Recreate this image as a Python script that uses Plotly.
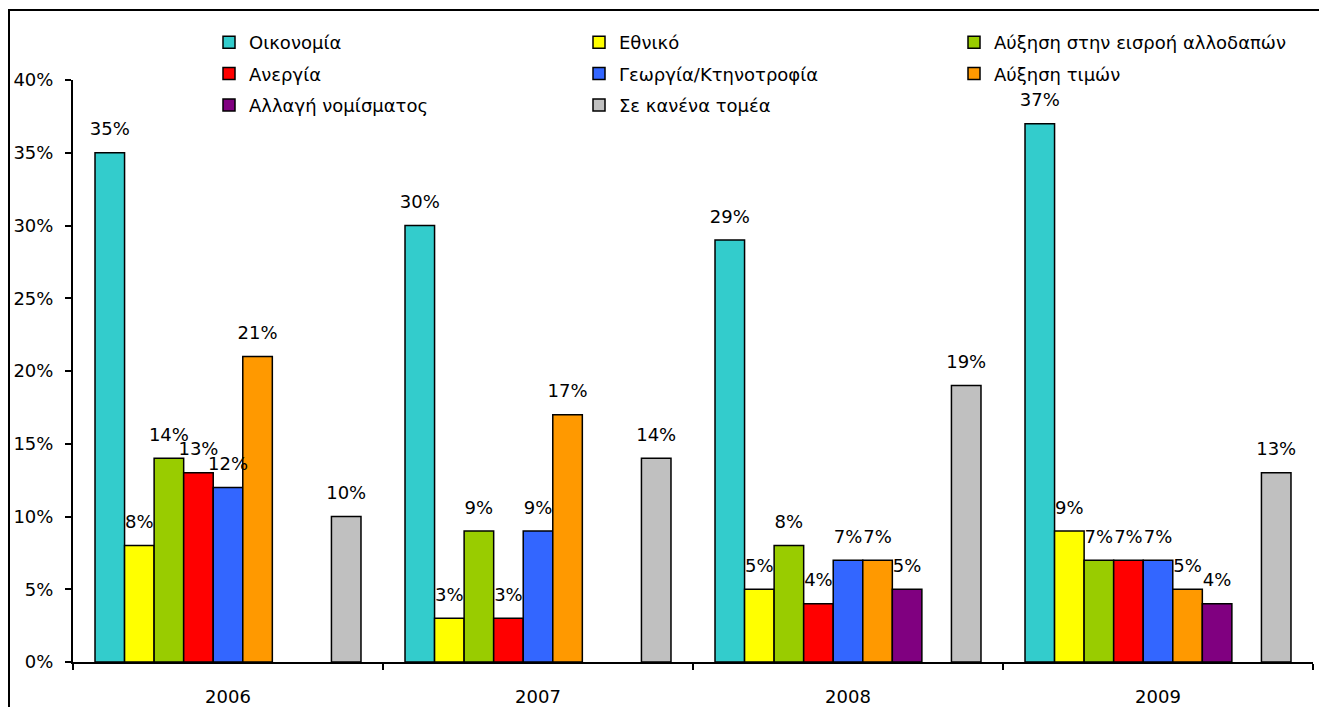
import plotly.graph_objects as go

years = ["2006", "2007", "2008", "2009"]

series_names = [
    "Οικονομία",
    "Εθνικό",
    "Αύξηση στην εισροή αλλοδαπών",
    "Ανεργία",
    "Γεωργία/Κτηνοτροφία",
    "Αύξηση τιμών",
    "Αλλαγή νομίσματος",
    "",
    "Σε κανένα τομέα",
]

oikonomia = [35, 30, 29, 37]
ethniko = [8, 3, 5, 9]
allodapoi = [14, 9, 8, 7]
anergia = [13, 3, 4, 7]
georgia = [12, 9, 7, 7]
timi = [21, 17, 7, 5]
nomisma = [None, None, 5, 4]
blank = [None, None, None, None]
kanena = [10, 14, 19, 13]

values = [oikonomia, ethniko, allodapoi, anergia, georgia, timi, nomisma, blank, kanena]
colors = ["#33CCCC", "#FFFF00", "#99CC00", "#FF0000", "#3366FF", "#FF9900", "#800080", "#FFFFFF", "#C0C0C0"]
legend_ids = ["legend", "legend2", "legend3", "legend", "legend2", "legend3", "legend", None, "legend2"]

FONT = "DejaVu Sans"
FS = 18
GAP = 0.142

fig = go.Figure()
for i, (name, vals, col, lg) in enumerate(zip(series_names, values, colors, legend_ids)):
    fig.add_trace(go.Bar(
        x=years, y=vals, name=name,
        marker=dict(color=col, line=dict(color="black", width=1.5)),
        showlegend=lg is not None,
        legend=lg if lg else "legend",
        legendgroup=f"g{i}",
        hoverinfo="skip",
    ))

for i, vals in enumerate(values):
    fig.add_trace(go.Scatter(
        x=years, y=vals, mode="markers+text",
        text=[f"{v}%" if v is not None else "" for v in vals],
        textposition="top center",
        textfont=dict(family=FONT, size=FS, color="black"),
        marker=dict(size=19, opacity=0),
        showlegend=False, hoverinfo="skip", cliponaxis=False,
    ))

# page body has an 8px margin; figure coords = reference coords - 8
OFF = 8
W, H = 1327 - OFF, 707 - OFF
PLOT_L, PLOT_R, PLOT_T, PLOT_B = 73 - OFF, 1313 - OFF, 80 - OFF, 662 - OFF
L, R, T, B = PLOT_L, W - PLOT_R, 2, H - PLOT_B
pw, ph = W - L - R, H - T - B
ydom_top = (PLOT_B - PLOT_T) / ph

def px2x(p):
    return (p - OFF - L) / pw

def px2y(p):
    return (H - B - (p - OFF)) / ph

leg_common = dict(
    orientation="v", xanchor="left", yanchor="top",
    bgcolor="rgba(0,0,0,0)", borderwidth=0,
    font=dict(family=FONT, size=FS, color="black"),
    tracegroupgap=5,
)

fig.update_layout(
    width=W, height=H,
    margin=dict(l=L, r=R, t=T, b=B, autoexpand=False),
    paper_bgcolor="white", plot_bgcolor="white",
    font=dict(family=FONT, size=FS, color="black"),
    barmode="group", bargap=GAP, bargroupgap=0,
    scattermode="group", scattergap=GAP,
    legend=dict(x=px2x(209), y=px2y(24), **leg_common),
    legend2=dict(x=px2x(579), y=px2y(24), **leg_common),
    legend3=dict(x=px2x(954), y=px2y(24), **leg_common),
    xaxis=dict(
        type="category", showline=True, linecolor="black", linewidth=2,
        ticks="outside", tickson="boundaries", ticklen=6, tickwidth=2, tickcolor="black",
        showgrid=False, ticklabelstandoff=17, automargin=False,
        tickfont=dict(family=FONT, size=FS, color="black"),
    ),
    yaxis=dict(
        domain=[0, ydom_top],
        range=[0, 40], dtick=5, ticksuffix="%", showline=True, linecolor="black", linewidth=2,
        ticks="outside", ticklen=6, tickwidth=2, tickcolor="black",
        showgrid=False, zeroline=False, ticklabelstandoff=8, automargin=False,
        tickfont=dict(family=FONT, size=FS, color="black"),
    ),
    shapes=[dict(
        type="rect", xref="paper", yref="paper",
        x0=px2x(9), x1=px2x(1400), y0=px2y(760), y1=px2y(10),
        line=dict(color="black", width=2), fillcolor="rgba(0,0,0,0)", layer="above",
    )],
)

fig.write_html("out.html")
